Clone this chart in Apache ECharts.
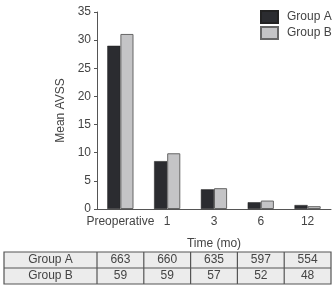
<!DOCTYPE html>
<html>
<head>
<meta charset="utf-8">
<script src="https://cdn.jsdelivr.net/npm/echarts@6/dist/echarts.min.js"></script>
<style>
  html, body { margin: 0; padding: 0; background: #fff; }
  #main { width: 336px; height: 287px; }
</style>
</head>
<body>
<div id="main"></div>
<script>
const categories = ['Preoperative', '1', '3', '6', '12'];
const groupA = [29, 8.5, 3.5, 1.2, 0.7];
const groupB = [31.1, 9.9, 3.7, 1.5, 0.5];
const countA = [663, 660, 635, 597, 554];
const countB = [59, 59, 57, 52, 48];
const rowNames = ['Group A', 'Group B'];

const FONT = 'Liberation Sans, Arial, sans-serif';
const TXT = '#444';

const chart = echarts.init(document.getElementById('main'), null, { renderer: 'canvas' });

chart.setOption({
  animation: false,
  textStyle: { fontFamily: FONT },
  grid: { left: 97, right: 5, top: 12, bottom: 78 },
  legend: {
    orient: 'vertical',
    left: 260,
    top: 10,
    padding: 0,
    icon: 'rect',
    itemWidth: 17,
    itemHeight: 12,
    itemGap: 2,
    textStyle: { fontSize: 12, color: TXT, fontFamily: FONT, padding: [0, 0, 0, 4] },
    data: ['Group A', 'Group B']
  },
  xAxis: {
    type: 'category',
    data: categories,
    name: 'Time (mo)',
    nameLocation: 'middle',
    nameGap: 29,
    nameTextStyle: { fontSize: 12, color: TXT },
    axisLine: { lineStyle: { color: '#555' } },
    axisTick: { length: 4, lineStyle: { color: '#555' } },
    axisLabel: { fontSize: 12, color: TXT, margin: 7, interval: 0 }
  },
  yAxis: {
    type: 'value',
    min: 0,
    max: 35,
    interval: 5,
    name: 'Mean AVSS',
    nameLocation: 'middle',
    nameGap: 29,
    nameTextStyle: { fontSize: 12, color: TXT },
    axisLine: { show: true, lineStyle: { color: '#555' } },
    axisTick: { show: true, length: 3, lineStyle: { color: '#555' } },
    axisLabel: { fontSize: 12, color: TXT, margin: 6 },
    splitLine: { show: false }
  },
  series: [
    {
      name: 'Group A',
      type: 'bar',
      data: groupA,
      barGap: '0%',
      barCategoryGap: '44%',
      itemStyle: { color: '#2b2c30', borderColor: '#222', borderWidth: 0.5 }
    },
    {
      name: 'Group B',
      type: 'bar',
      data: groupB,
      itemStyle: { color: '#c4c4c6', borderColor: '#666', borderWidth: 1 }
    }
  ]
});

// table below the chart, columns aligned with the category axis
const rows = [countA, countB];
const tableTop = 252, rowH = 16, tableLeft = 4;
const px = i => chart.convertToPixel({ xAxisIndex: 0 }, i);
const half = (px(1) - px(0)) / 2;
const colEdges = [tableLeft, px(0) - half];
categories.forEach((c, i) => colEdges.push(px(i) + half));
const tableRight = colEdges[colEdges.length - 1];

const els = [];
els.push({
  type: 'rect',
  shape: { x: tableLeft, y: tableTop, width: tableRight - tableLeft, height: rowH * 2 },
  style: { fill: '#ececec', stroke: '#555', lineWidth: 1.2 }
});
els.push({
  type: 'line',
  shape: { x1: tableLeft, y1: tableTop + rowH, x2: tableRight, y2: tableTop + rowH },
  style: { stroke: '#555', lineWidth: 1.2 }
});
for (let i = 1; i < colEdges.length - 1; i++) {
  els.push({
    type: 'line',
    shape: { x1: colEdges[i], y1: tableTop, x2: colEdges[i], y2: tableTop + rowH * 2 },
    style: { stroke: '#555', lineWidth: 1.2 }
  });
}
rows.forEach((vals, r) => {
  const cy = tableTop + rowH * r + rowH / 2;
  els.push({
    type: 'text',
    style: {
      text: rowNames[r], x: (colEdges[0] + colEdges[1]) / 2, y: cy,
      align: 'center', verticalAlign: 'middle', fontSize: 12, fill: TXT, fontFamily: FONT
    }
  });
  vals.forEach((v, i) => {
    els.push({
      type: 'text',
      style: {
        text: String(v), x: (colEdges[i + 1] + colEdges[i + 2]) / 2, y: cy,
        align: 'center', verticalAlign: 'middle', fontSize: 12, fill: TXT, fontFamily: FONT
      }
    });
  });
});
chart.setOption({ graphic: { elements: els } });
</script>
</body>
</html>
